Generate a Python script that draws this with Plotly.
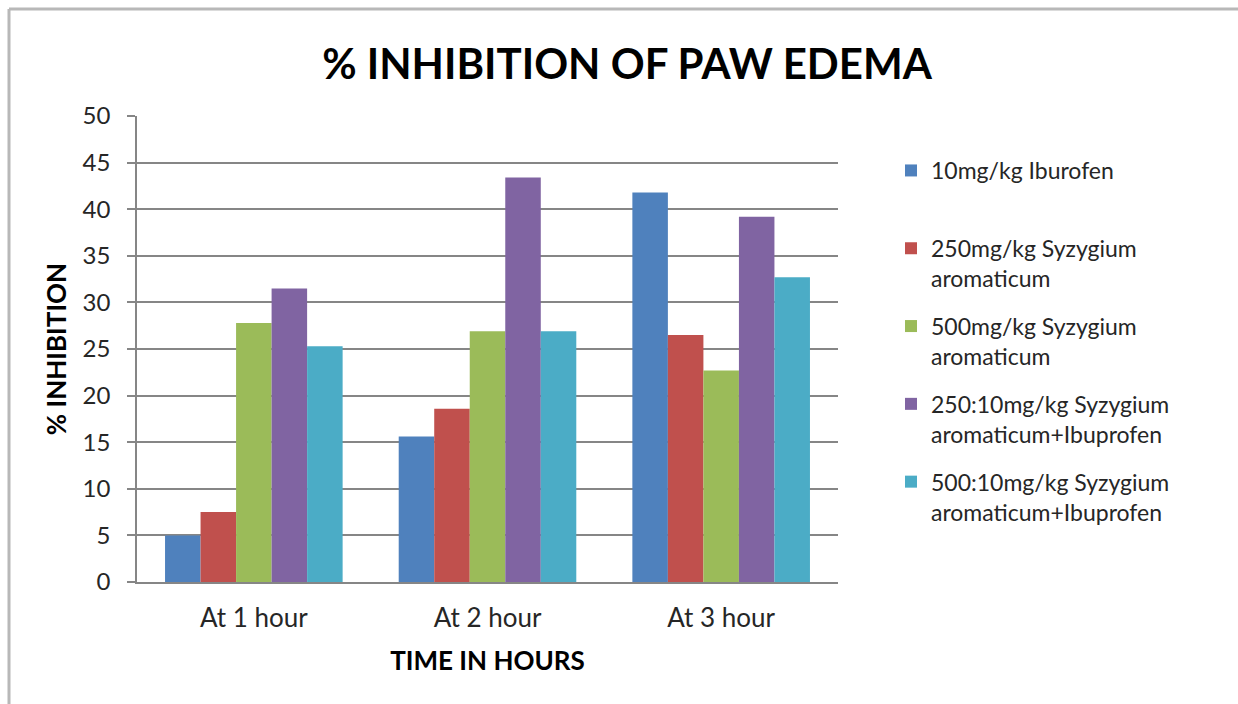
import plotly.graph_objects as go

# Time points (x categories)
time_points = ["At 1 hour", "At 2 hour", "At 3 hour"]

# Treatment groups (legend entries)
group_names = [
    "10mg/kg Iburofen<br>&nbsp;",
    "250mg/kg Syzygium<br>aromaticum",
    "500mg/kg Syzygium<br>aromaticum",
    "250:10mg/kg Syzygium<br>aromaticum+Ibuprofen",
    "500:10mg/kg Syzygium<br>aromaticum+Ibuprofen",
]

# % inhibition of paw edema for each group at each time point
ibuprofen_10 = [5.0, 15.6, 41.8]
syzygium_250 = [7.5, 18.6, 26.5]
syzygium_500 = [27.8, 26.9, 22.7]
combo_250_10 = [31.5, 43.4, 39.2]
combo_500_10 = [25.3, 26.9, 32.7]

series_values = [ibuprofen_10, syzygium_250, syzygium_500, combo_250_10, combo_500_10]
colors = ["#4F81BD", "#C0504D", "#9BBB59", "#8064A2", "#4BACC6"]

y_ticks = [0, 5, 10, 15, 20, 25, 30, 35, 40, 45, 50]

FONT = "Lato, 'Open Sans', sans-serif"

fig = go.Figure()
for i, (name, vals, col) in enumerate(zip(group_names, series_values, colors)):
    fig.add_trace(go.Bar(
        x=time_points,
        y=vals,
        name=name,
        marker=dict(color=col, line=dict(width=0)),
        legendgroup=f"g{i}",
    ))

# plot area geometry in pixels
W, H = 1238, 704
L, R, T, B = 137, 838, 116, 582
pw, ph = R - L, B - T


def px_x(px):
    return (px - L) / pw


def px_y(py):
    return (B - py) / ph


fig.update_layout(
    width=W,
    height=H,
    margin=dict(l=L, r=W - R, t=T, b=H - B, autoexpand=False),
    paper_bgcolor="white",
    plot_bgcolor="white",
    barmode="group",
    bargap=0.24,
    bargroupgap=0,
    font=dict(family=FONT, color="#262626", size=18),
    title=dict(
        text="<b>% INHIBITION OF PAW EDEMA</b>",
        x=627 / W,
        xref="container",
        xanchor="center",
        y=1 - 64 / H,
        yref="container",
        yanchor="middle",
        font=dict(family=FONT, size=42, color="#000000"),
    ),
    legend=dict(
        x=px_x(891),
        y=px_y(149),
        xanchor="left",
        yanchor="top",
        font=dict(family=FONT, size=23, color="#262626"),
        tracegroupgap=15,
        valign="top",
        itemwidth=30,
        bgcolor="rgba(0,0,0,0)",
    ),
    xaxis=dict(
        showgrid=False,
        showline=True,
        linecolor="#868686",
        linewidth=1.5,
        ticks="",
        tickfont=dict(family=FONT, size=26, color="#262626"),
        ticklabelstandoff=12,
        title=dict(
            text="<b>TIME IN HOURS</b>",
            font=dict(family=FONT, size=26, color="#000000"),
            standoff=20,
        ),
    ),
    yaxis=dict(
        range=[0, 50],
        tickvals=y_ticks,
        showgrid=True,
        gridcolor="#868686",
        gridwidth=1.5,
        showline=True,
        linecolor="#868686",
        linewidth=1.5,
        ticks="outside",
        ticklen=8,
        tickcolor="#868686",
        tickwidth=1.5,
        tickfont=dict(family=FONT, size=24, color="#262626"),
        ticklabelstandoff=12,
        zeroline=False,
        title=dict(
            text="<b>% INHIBITION</b>",
            font=dict(family=FONT, size=26, color="#000000"),
            standoff=9,
        ),
    ),
    showlegend=True,
)

# outer frame: top and left edges
fig.add_shape(type="line", xref="paper", yref="paper",
              x0=px_x(9), x1=px_x(W + 5), y0=px_y(9), y1=px_y(9),
              line=dict(color="#b8b8b8", width=3))
fig.add_shape(type="line", xref="paper", yref="paper",
              x0=px_x(9), x1=px_x(9), y0=px_y(9), y1=px_y(H + 5),
              line=dict(color="#b8b8b8", width=3))

fig.write_html("out.html")
